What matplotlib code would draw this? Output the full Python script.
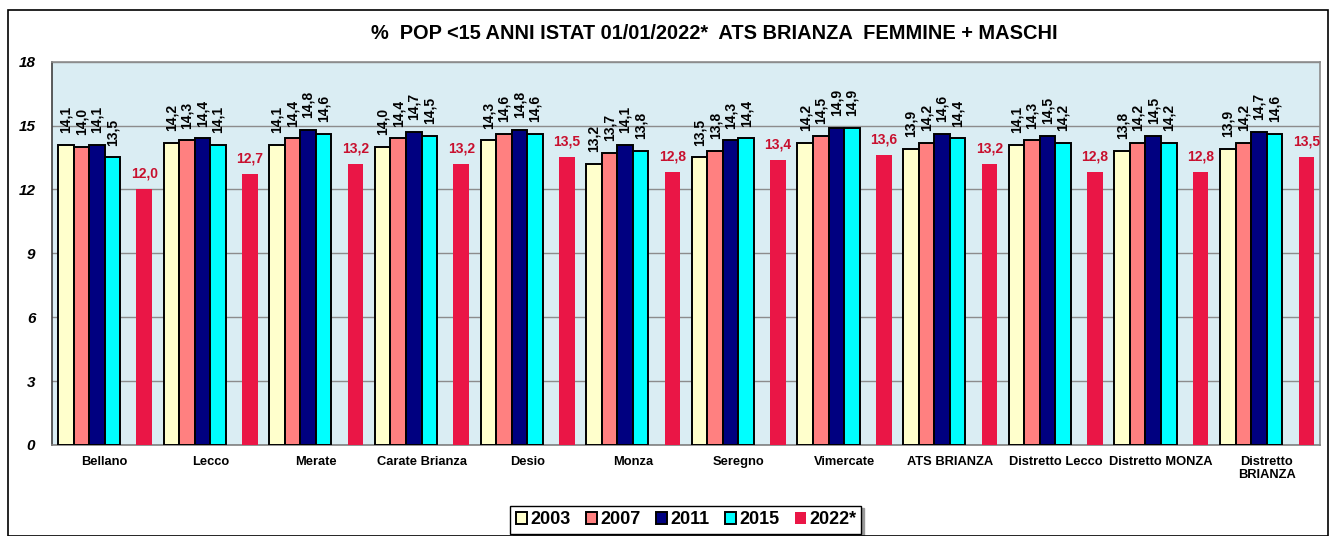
import matplotlib.pyplot as plt
import numpy as np
from matplotlib.patches import Rectangle

plt.rcParams["font.family"] = ["Liberation Sans", "DejaVu Sans"]

categories = ["Bellano", "Lecco", "Merate", "Carate Brianza", "Desio", "Monza",
              "Seregno", "Vimercate", "ATS BRIANZA", "Distretto Lecco",
              "Distretto MONZA", "Distretto\nBRIANZA"]
years = ["2003", "2007", "2011", "2015", "2022*"]
v2003 = [14.1, 14.2, 14.1, 14.0, 14.3, 13.2, 13.5, 14.2, 13.9, 14.1, 13.8, 13.9]
v2007 = [14.0, 14.3, 14.4, 14.4, 14.6, 13.7, 13.8, 14.5, 14.2, 14.3, 14.2, 14.2]
v2011 = [14.1, 14.4, 14.8, 14.7, 14.8, 14.1, 14.3, 14.9, 14.6, 14.5, 14.5, 14.7]
v2015 = [13.5, 14.1, 14.6, 14.5, 14.6, 13.8, 14.4, 14.9, 14.4, 14.2, 14.2, 14.6]
v2022 = [12.0, 12.7, 13.2, 13.2, 13.5, 12.8, 13.4, 13.6, 13.2, 12.8, 12.8, 13.5]

series = [v2003, v2007, v2011, v2015, v2022]
colors = ["#FFFFCC", "#FF8080", "#000080", "#00FFFF", "#EA1646"]

fig = plt.figure(figsize=(13.33, 5.36), dpi=100)
fig.patches.append(Rectangle((0.006, 0.0), 0.99, 0.982, transform=fig.transFigure,
                             fill=False, edgecolor="black", linewidth=1.2))
ax = fig.add_axes([0.039, 0.170, 0.951, 0.715])
ax.set_facecolor("#DAEDF3")

x = np.arange(len(categories))
w = 0.147
offsets = [0.057, 0.204, 0.351, 0.498, 0.80]

for i, (vals, col, yr) in enumerate(zip(series, colors, years)):
    left = x + offsets[i]
    if i < 4:
        ax.bar(left, vals, width=w, align="edge", color=col, edgecolor="black",
               linewidth=1.4, label=yr, zorder=3)
        for xl, v in zip(left, vals):
            ax.text(xl + w / 2, v + 0.55, f"{v:.1f}".replace(".", ","), rotation=90,
                    ha="center", va="bottom", fontsize=10, fontweight="bold", zorder=4)
    else:
        ax.bar(left, vals, width=w, align="edge", color=col, edgecolor="none",
               label=yr, zorder=3)
        for xl, v in zip(left, vals):
            ax.text(xl + w / 2, v + 0.4, f"{v:.1f}".replace(".", ","),
                    ha="center", va="bottom", fontsize=10, fontweight="bold",
                    color="#C8102E", zorder=4)

ax.set_xlim(0, len(categories))
ax.set_ylim(0, 18)
ax.set_yticks(np.arange(0, 19, 3))
ax.set_yticklabels([str(t) for t in range(0, 19, 3)], fontweight="bold", style="italic",
                   fontsize=11)
ax.yaxis.grid(True, color="#8C8C8C", linewidth=1.0, zorder=0)
ax.set_axisbelow(True)
ax.tick_params(axis="y", length=0, pad=12)
ax.set_xticks(x + 0.5)
ax.set_xticklabels(categories, fontweight="bold", fontsize=9.3, linespacing=1.1)
ax.tick_params(axis="x", length=0, pad=8)
for side in ["top", "right"]:
    ax.spines[side].set_color("#8C8C8C")
    ax.spines[side].set_linewidth(1.2)
ax.spines["left"].set_color("#404040")
ax.spines["bottom"].set_color("#808080")
ax.spines["left"].set_linewidth(1.2)
ax.spines["bottom"].set_linewidth(1.2)

fig.text(0.536, 0.938, "%  POP <15 ANNI ISTAT 01/01/2022*  ATS BRIANZA  FEMMINE + MASCHI",
         ha="center", va="center", fontsize=14.4, fontweight="bold")

leg = ax.legend(loc="center", bbox_to_anchor=(0.5, -0.195), ncol=5, frameon=True,
                fancybox=False, shadow={"color": "#9A9A9A", "alpha": 1.0},
                edgecolor="black", handlelength=0.65, handleheight=0.65,
                handletextpad=0.15, columnspacing=0.85, borderpad=0.3,
                prop={"weight": "bold", "size": 13})
leg.get_frame().set_linewidth(1.0)

fig.savefig("out.png", dpi=100)
